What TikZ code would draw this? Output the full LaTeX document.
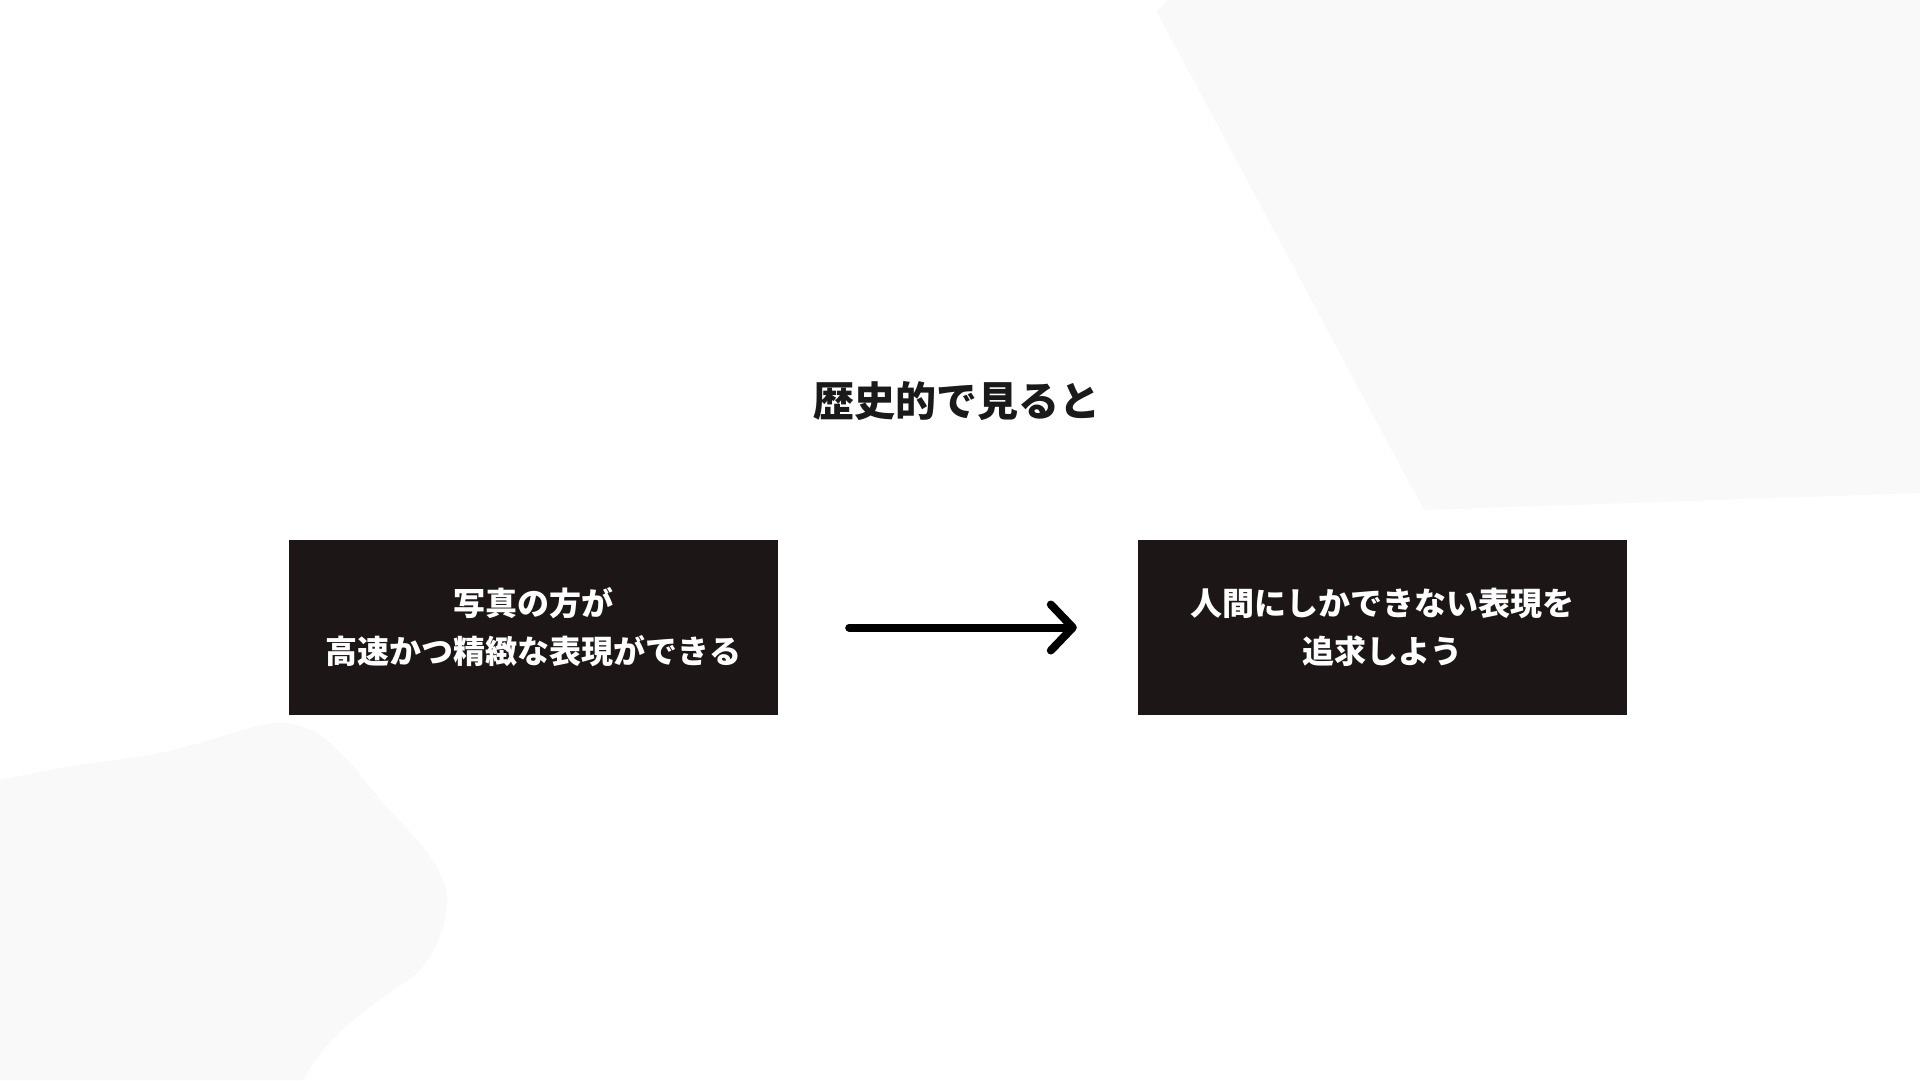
\documentclass[tikz,border=0pt]{standalone}
\usepackage{fontspec}
\newfontfamily\cjk{Noto Sans CJK JP}
\usetikzlibrary{arrows.meta}
\definecolor{bgshape}{HTML}{F9F9F9}
\definecolor{boxfill}{HTML}{1C1716}
\definecolor{ink}{HTML}{1A1A1A}
\tikzset{
  darkbox/.style={fill=boxfill, draw=none, minimum width=489pt, minimum height=175pt, inner sep=0pt,
    text=white, align=center, font=\cjk\bfseries\fontsize{32}{48}\selectfont},
  titletext/.style={text=ink, inner sep=0pt, font=\cjk\bfseries\fontsize{41}{48}\selectfont},
  flowarrow/.style={draw=black, line width=8pt, line cap=round,
    -{Straight Barb[length=22pt,width=46pt,line cap=round,line join=round]}},
}
\begin{document}
\begin{tikzpicture}[x=1pt,y=-1pt]
  \useasboundingbox (0,0) rectangle (1920,1080);
  \fill[white] (0,0) rectangle (1920,1080);
  % background shapes
  \fill[bgshape] (1168,0) -- (1920,0) -- (1920,493) -- (1424,510) -- (1157,12) -- cycle;
  \fill[bgshape] (0,1080) -- plot[smooth, tension=0.55] coordinates {
    (0,780) (67,767) (150,755) (200,743) (250,728) (283,723) (317,733) (350,763)
    (383,803) (423,847) (443,880) (447,907) (437,943) (417,973) (383,997)
    (350,1023) (323,1050) (303,1080)} -- cycle;
  % title
  \node[titletext] (title) at (957,401) {歴史的で見ると};
  % boxes
  \node[darkbox] (left) at (533.5,627.5) {写真の方が\\高速かつ精緻な表現ができる};
  \node[darkbox] (right) at (1382.5,627.5) {人間にしかできない表現を\\追求しよう};
  % arrow
  \draw[flowarrow, shorten <=71pt, shorten >=61pt] (left) -- (right);
\end{tikzpicture}
\end{document}
